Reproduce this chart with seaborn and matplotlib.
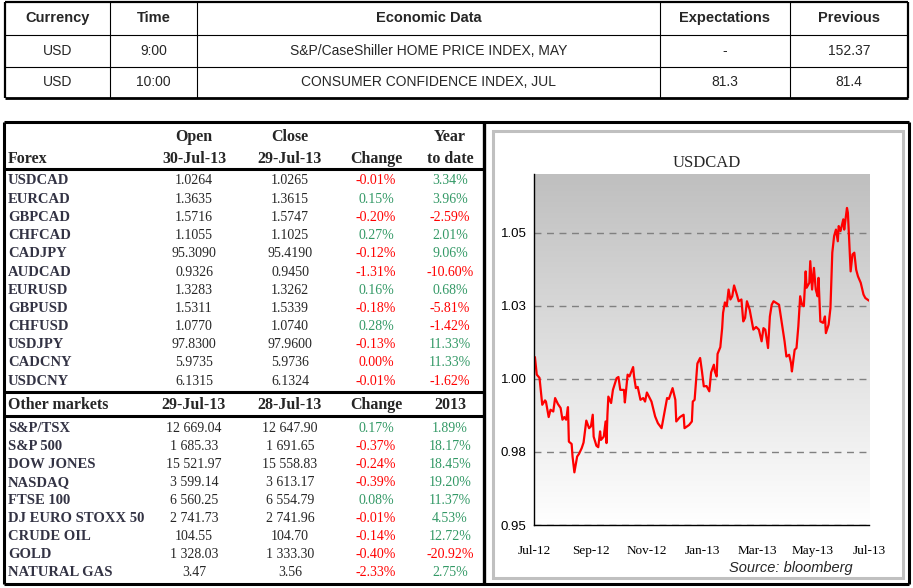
import numpy as np
import pandas as pd
import matplotlib.pyplot as plt
import seaborn as sns
from matplotlib.colors import LinearSegmentedColormap
from matplotlib.patches import Rectangle

# ---- economic calendar (top table)
eco_header = ['Currency', 'Time', 'Economic Data', 'Expectations', 'Previous']
eco_currency = ['USD', 'USD']
eco_time = ['9:00', '10:00']
eco_event = ['S&P/CaseShiller HOME PRICE INDEX, MAY', 'CONSUMER CONFIDENCE INDEX, JUL']
eco_expect = ['-', '81.3']
eco_previous = ['152.37', '81.4']

# ---- forex table
forex_names = ['USDCAD', 'EURCAD', 'GBPCAD', 'CHFCAD', 'CADJPY', 'AUDCAD',
               'EURUSD', 'GBPUSD', 'CHFUSD', 'USDJPY', 'CADCNY', 'USDCNY']
forex_open = ['1.0264', '1.3635', '1.5716', '1.1055', '95.3090', '0.9326',
              '1.3283', '1.5311', '1.0770', '97.8300', '5.9735', '6.1315']
forex_close = ['1.0265', '1.3615', '1.5747', '1.1025', '95.4190', '0.9450',
               '1.3262', '1.5339', '1.0740', '97.9600', '5.9736', '6.1324']
forex_change = [-0.01, 0.15, -0.20, 0.27, -0.12, -1.31, 0.16, -0.18, 0.28, -0.13, 0.00, -0.01]
forex_ytd = [3.34, 3.96, -2.59, 2.01, 9.06, -10.60, 0.68, -5.81, -1.42, 11.33, 11.33, -1.62]

# ---- other markets table
mkt_names = ['S&P/TSX', 'S&P 500', 'DOW JONES', 'NASDAQ', 'FTSE 100',
             'DJ EURO STOXX 50', 'CRUDE OIL', 'GOLD', 'NATURAL GAS']
mkt_last = ['12 669.04', '1 685.33', '15 521.97', '3 599.14', '6 560.25',
            '2 741.73', '104.55', '1 328.03', '3.47']
mkt_prev = ['12 647.90', '1 691.65', '15 558.83', '3 613.17', '6 554.79',
            '2 741.96', '104.70', '1 333.30', '3.56']
mkt_change = [0.17, -0.37, -0.24, -0.39, 0.08, -0.01, -0.14, -0.40, -2.33]
mkt_ytd = [1.89, 18.17, 18.45, 19.20, 11.37, 4.53, 12.72, -20.92, 2.75]

# ---- USDCAD chart
usd_dates = [
    '2012-07-01', '2012-07-02', '2012-07-04', '2012-07-07', '2012-07-10', '2012-07-13', '2012-07-14',
    '2012-07-17', '2012-07-19', '2012-07-22', '2012-07-24', '2012-07-27', '2012-07-30',
    '2012-08-01', '2012-08-03', '2012-08-05', '2012-08-07', '2012-08-08', '2012-08-11', '2012-08-12',
    '2012-08-14', '2012-08-17', '2012-08-19', '2012-08-22', '2012-08-24', '2012-08-27', '2012-08-30',
    '2012-09-01', '2012-09-03', '2012-09-04', '2012-09-07', '2012-09-09', '2012-09-11', '2012-09-12',
    '2012-09-15', '2012-09-17', '2012-09-18', '2012-09-19', '2012-09-20', '2012-09-23', '2012-09-25',
    '2012-09-29',
    '2012-10-01', '2012-10-03', '2012-10-07', '2012-10-08', '2012-10-11', '2012-10-13', '2012-10-17',
    '2012-10-18', '2012-10-20', '2012-10-22', '2012-10-25', '2012-10-28', '2012-10-30',
    '2012-11-01', '2012-11-06', '2012-11-10', '2012-11-13', '2012-11-17', '2012-11-20', '2012-11-23',
    '2012-11-25', '2012-11-29',
    '2012-12-02', '2012-12-03', '2012-12-07', '2012-12-11', '2012-12-12', '2012-12-17', '2012-12-20',
    '2012-12-21', '2012-12-23', '2012-12-26', '2012-12-29', '2012-12-31',
    '2013-01-02', '2013-01-05', '2013-01-08', '2013-01-10', '2013-01-13', '2013-01-14', '2013-01-16',
    '2013-01-17', '2013-01-20', '2013-01-22', '2013-01-23', '2013-01-25', '2013-01-27', '2013-01-29',
    '2013-01-31',
    '2013-02-02', '2013-02-04', '2013-02-07', '2013-02-09', '2013-02-12', '2013-02-14', '2013-02-16',
    '2013-02-18', '2013-02-21', '2013-02-25', '2013-02-28',
    '2013-03-03', '2013-03-06', '2013-03-08', '2013-03-10', '2013-03-13', '2013-03-15', '2013-03-17',
    '2013-03-19', '2013-03-22', '2013-03-25', '2013-03-28', '2013-03-31',
    '2013-04-02', '2013-04-05', '2013-04-07', '2013-04-08', '2013-04-11', '2013-04-13', '2013-04-15',
    '2013-04-17', '2013-04-19', '2013-04-21', '2013-04-23', '2013-04-24', '2013-04-27', '2013-04-28',
    '2013-04-30',
    '2013-05-02', '2013-05-04', '2013-05-06', '2013-05-07', '2013-05-09', '2013-05-12', '2013-05-14',
    '2013-05-15', '2013-05-18', '2013-05-20', '2013-05-22', '2013-05-24', '2013-05-26', '2013-05-28',
    '2013-05-29', '2013-05-31',
    '2013-06-03', '2013-06-04', '2013-06-07', '2013-06-08', '2013-06-11', '2013-06-13', '2013-06-15',
    '2013-06-17', '2013-06-19', '2013-06-22', '2013-06-25', '2013-06-27',
    '2013-07-01']
usd_values = [
    1.0055, 1.0074, 1.0014, 1.0003, 0.9911, 0.9926, 0.9922, 0.9869, 0.9894, 0.9888, 0.9934, 0.9914, 0.9900,
    0.9860, 0.9869, 0.9860, 0.9903, 0.9785, 0.9777, 0.9734, 0.9680, 0.9734, 0.9743, 0.9763, 0.9782,
    0.9857, 0.9831,
    0.9837, 0.9877, 0.9802, 0.9771, 0.9766, 0.9820, 0.9791, 0.9802, 0.9854, 0.9780, 0.9877, 0.9939,
    0.9917, 0.9962, 1.0002,
    1.0006, 0.9962, 0.9962, 0.9919, 1.0014, 1.0008, 1.0040, 1.0008, 0.9968, 0.9972, 0.9928, 0.9934, 0.9922,
    0.9953, 0.9922, 0.9871, 0.9848, 0.9831, 0.9883, 0.9934, 0.9931, 0.9968,
    0.9928, 0.9854, 0.9869, 0.9877, 0.9831, 0.9842, 0.9854, 0.9922, 0.9928, 1.0052, 1.0071, 1.0025,
    0.9974, 0.9975, 0.9957, 1.0022, 1.0048, 1.0025, 1.0008, 1.0085, 1.0108, 1.0173, 1.0225, 1.0261,
    1.0248, 1.0305, 1.0271,
    1.0282, 1.0319, 1.0288, 1.0265, 1.0271, 1.0196, 1.0208, 1.0265, 1.0236, 1.0168, 1.0177,
    1.0168, 1.0128, 1.0173, 1.0168, 1.0105, 1.0213, 1.0253, 1.0265, 1.0259, 1.0253, 1.0191, 1.0128,
    1.0076, 1.0082, 1.0054, 1.0025, 1.0099, 1.0105, 1.0179, 1.0282, 1.0253, 1.0248, 1.0367, 1.0311,
    1.0328, 1.0402, 1.0305,
    1.0379, 1.0305, 1.0282, 1.0345, 1.0196, 1.0191, 1.0213, 1.0156, 1.0185, 1.0242, 1.0431, 1.0488,
    1.0510, 1.0470, 1.0522, 1.0505,
    1.0545, 1.0510, 1.0584, 1.0567, 1.0367, 1.0425, 1.0431, 1.0373, 1.0350, 1.0328, 1.0288, 1.0276,
    1.0267]
x_tick_dates = ['2012-07-01', '2012-09-01', '2012-11-01', '2013-01-01', '2013-03-01', '2013-05-01', '2013-07-01']
x_tick_labels = ['Jul-12', 'Sep-12', 'Nov-12', 'Jan-13', 'Mar-13', 'May-13', 'Jul-13']
y_ticks = [0.95, 0.975, 1.00, 1.025, 1.05]
y_tick_labels = ['0.95', '0.98', '1.00', '1.03', '1.05']

usd = pd.DataFrame({'date': pd.to_datetime(usd_dates), 'usdcad': usd_values})

sns.set_style('white')
SANS_N = ['Liberation Sans Narrow', 'Liberation Sans', 'DejaVu Sans']
SANS = ['Liberation Sans', 'DejaVu Sans']
SERIF = ['Liberation Serif', 'DejaVu Serif']
plt.rcParams['font.family'] = SERIF

RED = '#ff0000'
GREEN = '#339966'
LABEL = '#333344'

fig = plt.figure(figsize=(9.13, 5.88), dpi=100)

# overlay in pixel coordinates for the tables and frames
ov = fig.add_axes([0, 0, 1, 1], zorder=0)
ov.set_xlim(0, 913)
ov.set_ylim(588, 0)
ov.axis('off')


def hline(x0, x1, y, lw):
    ov.plot([x0, x1], [y, y], color='black', lw=lw, solid_capstyle='butt')


def vline(x, y0, y1, lw):
    ov.plot([x, x], [y0, y1], color='black', lw=lw, solid_capstyle='butt')


# ---- top table
eco_cols = [5, 110, 197, 660, 790, 908]
eco_rows = [2, 35, 67, 98]
for y, lw in zip(eco_rows, [1.6, 0.8, 0.8, 2.0]):
    hline(eco_cols[0], eco_cols[-1], y, lw)
for i, x in enumerate(eco_cols):
    vline(x, eco_rows[0], eco_rows[-1], 1.6 if i in (0, len(eco_cols) - 1) else 0.8)
centers = [(a + b) / 2 for a, b in zip(eco_cols[:-1], eco_cols[1:])]
for cx, h in zip(centers, eco_header):
    ov.text(cx, 18, h, ha='center', va='center', fontsize=10.5, fontweight='bold', family=SANS_N)
for r, row in enumerate(zip(eco_currency, eco_time, eco_event, eco_expect, eco_previous)):
    yc = (eco_rows[r + 1] + eco_rows[r + 2]) / 2
    for cx, t in zip(centers, row):
        ov.text(cx, yc, t, ha='center', va='center', fontsize=10, family=SANS_N)

# ---- bottom frame
hline(4, 909, 122, 2.2)
hline(4, 909, 584, 2.2)
vline(4, 122, 584, 2.2)
vline(909, 122, 584, 2.2)
vline(484, 122, 584, 2.4)
hline(4, 484, 169, 2.2)
hline(4, 484, 392, 2.2)
hline(4, 484, 416, 2.2)

col_open, col_close, col_chg, col_ytd = 194, 290, 376, 450

# forex header
for x, t in [(col_open, 'Open'), (col_close, 'Close'), (col_ytd, 'Year')]:
    ov.text(x, 137, t, ha='center', va='center', fontsize=11.5, fontweight='bold')
ov.text(8, 159, 'Forex', ha='left', va='center', fontsize=11.5, fontweight='bold')
for x, t in [(col_open, '30-Jul-13'), (col_close, '29-Jul-13'), (col_chg, 'Change'), (col_ytd, 'to date')]:
    ov.text(x, 159, t, ha='center', va='center', fontsize=11.5, fontweight='bold')


def pct_color(v):
    return GREEN if v > 0 else RED


def table_rows(y0, step, names, first, second, chg, ytd):
    for i in range(len(names)):
        y = y0 + i * step
        ov.text(8, y, names[i], ha='left', va='center', fontsize=10.5, fontweight='bold', color=LABEL)
        ov.text(col_open, y, first[i], ha='center', va='center', fontsize=10)
        ov.text(col_close, y, second[i], ha='center', va='center', fontsize=10)
        ov.text(col_chg, y, f'{chg[i]:.2f}%', ha='center', va='center', fontsize=10, color=pct_color(chg[i]))
        ov.text(col_ytd, y, f'{ytd[i]:.2f}%', ha='center', va='center', fontsize=10, color=pct_color(ytd[i]))


table_rows(181, 18.2, forex_names, forex_open, forex_close, forex_change, forex_ytd)

# other markets header
ov.text(8, 405, 'Other markets', ha='left', va='center', fontsize=11.5, fontweight='bold')
for x, t in [(col_open, '29-Jul-13'), (col_close, '28-Jul-13'), (col_chg, 'Change'), (col_ytd, '2013')]:
    ov.text(x, 405, t, ha='center', va='center', fontsize=11.5, fontweight='bold')
table_rows(428, 18.1, mkt_names, mkt_last, mkt_prev, mkt_change, mkt_ytd)

# ---- chart panel
ov.add_patch(Rectangle((493, 131), 410, 447, fill=False, edgecolor='#c0c0c0', lw=2.2))
ov.text(707, 163, 'USDCAD', ha='center', va='center', fontsize=12)
ov.text(791, 568, 'Source: bloomberg', ha='center', va='center', fontsize=10.5,
        style='italic', family=SANS)

ax = fig.add_axes([534 / 913, 63 / 588, 335 / 913, 351 / 588], zorder=1)
ax.set_facecolor('none')
grad = LinearSegmentedColormap.from_list('bg', ['#bfbfbf', '#ffffff'])
ax.imshow(np.linspace(0, 1, 256).reshape(-1, 1), cmap=grad, extent=[0, 1, 0, 1],
          transform=ax.transAxes, aspect='auto', zorder=0)

sns.lineplot(data=usd, x='date', y='usdcad', color='#ff0000', linewidth=1.6, ax=ax, zorder=3)

ax.set_xlim(pd.Timestamp('2012-07-01'), pd.Timestamp('2013-07-01'))
ax.set_ylim(0.95, 1.07)
ax.set_xticks(pd.to_datetime(x_tick_dates))
ax.set_xticklabels(x_tick_labels, fontsize=9.5)
ax.set_yticks(y_ticks)
ax.set_yticklabels(y_tick_labels, fontsize=9.5, family=SANS_N)
ax.set_xlabel('')
ax.set_ylabel('')
ax.grid(axis='y', linestyle=(0, (5, 4)), color='#808080', linewidth=1.0)
ax.grid(axis='x', visible=False)
ax.set_axisbelow(False)
for s in ['top', 'right']:
    ax.spines[s].set_visible(False)
for s in ['left', 'bottom']:
    ax.spines[s].set_color('black')
    ax.spines[s].set_linewidth(1.0)
    ax.spines[s].set_zorder(4)
ax.tick_params(axis='both', direction='out', width=0.8, color='black', colors='black')
ax.tick_params(axis='x', pad=10, length=4.5)
ax.tick_params(axis='y', pad=1.5, length=4)

fig.savefig('out.png', dpi=100)
